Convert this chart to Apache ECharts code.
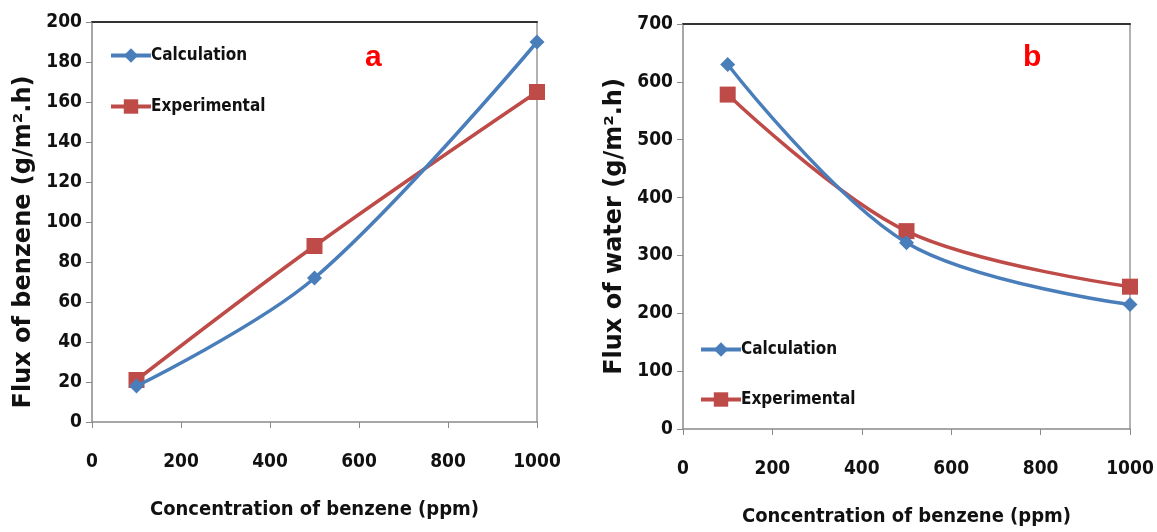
<!DOCTYPE html>
<html>
<head>
<meta charset="utf-8">
<title>Flux vs concentration</title>
<script src="https://cdn.jsdelivr.net/npm/echarts@6/dist/echarts.min.js"></script>
<style>
  * { margin: 0; padding: 0 }
  html, body { width: 100%; height: 100%; background: #fff; }
  #main { width: 1157px; height: 532px; }
</style>
</head>
<body>
<div id="main"></div>
<script type="text/javascript">
// concentration of benzene (ppm)
var conc = [100, 500, 1000];
// panel a: flux of benzene
var benzeneCalc = [18, 72, 190];
var benzeneExp = [21, 88, 165];
// panel b: flux of water
var waterCalc = [630, 322, 215];
var waterExp = [578, 342, 246];

var blue = '#4a7ebb';
var red = '#be4b48';
var narrow = '"DejaVu Sans Condensed", "Liberation Sans Narrow", sans-serif';

function pairs(xs, ys) {
  return xs.map(function (x, i) { return [x, ys[i]]; });
}

function bottomAxis(gi) {
  return {
    type: 'value', gridIndex: gi, min: 0, max: 1000, interval: 200,
    name: 'Concentration of benzene (ppm)', nameLocation: 'middle', nameGap: 78,
    nameTextStyle: { fontFamily: narrow, fontWeight: 'bold', fontSize: 20, color: '#111' },
    axisLine: { onZero: false, lineStyle: { color: '#8a8a8a', width: 1.5 } },
    axisTick: { show: true, length: 6, lineStyle: { color: '#8a8a8a' } },
    axisLabel: { margin: 31, fontFamily: narrow, fontWeight: 'bold', fontSize: 19, color: '#111',
      formatter: function (v) { return String(v); } },
    splitLine: { show: false }
  };
}
function topAxis(gi) {
  return {
    type: 'value', gridIndex: gi, position: 'top', min: 0, max: 1000,
    axisLine: { onZero: false, lineStyle: { color: '#333', width: 2 } },
    axisTick: { show: false }, axisLabel: { show: false }, splitLine: { show: false }
  };
}
function leftAxis(gi, max, step, title, shift) {
  return {
    type: 'value', gridIndex: gi, min: 0, max: max, interval: step,
    name: title, nameLocation: 'middle', nameGap: 56,
    nameTextStyle: { fontFamily: '"DejaVu Sans", sans-serif', fontWeight: 'bold', fontSize: 24, color: '#111',
      padding: [0, shift, 0, 0] },
    axisLine: { show: true, onZero: false, lineStyle: { color: '#8a8a8a', width: 1.5 } },
    axisTick: { show: true, length: 6, lineStyle: { color: '#8a8a8a' } },
    axisLabel: { margin: 10, fontFamily: narrow, fontWeight: 'bold', fontSize: 19, color: '#111' },
    splitLine: { show: false }
  };
}
function rightAxis(gi, max) {
  return {
    type: 'value', gridIndex: gi, position: 'right', min: 0, max: max,
    axisLine: { show: true, onZero: false, lineStyle: { color: '#999', width: 1.5 } },
    axisTick: { show: false }, axisLabel: { show: false }, splitLine: { show: false }
  };
}
function line(name, xi, yi, data, color, symbol, size) {
  return {
    name: name, type: 'line', xAxisIndex: xi, yAxisIndex: yi,
    data: data, smooth: 0.35, symbol: symbol, symbolSize: size,
    lineStyle: { color: color, width: 3.5 },
    itemStyle: { color: color },
    z: name === 'Experimental' ? 2 : 3
  };
}

var legendText = { fontFamily: narrow, fontWeight: 'bold', fontSize: 17, color: '#111', padding: [0, 0, 0, -5] };

var chart = echarts.init(document.getElementById('main'));
chart.setOption({
  animation: false,
  grid: [
    { left: 92, top: 22, width: 445, height: 400 },
    { left: 683, top: 24, width: 447, height: 408 }
  ],
  xAxis: [bottomAxis(0), bottomAxis(1), topAxis(0), topAxis(1)],
  yAxis: [
    leftAxis(0, 200, 20, 'Flux of benzene (g/m\u00b2.h)', 40),
    leftAxis(1, 700, 100, 'Flux of water (g/m\u00b2.h)', 0),
    rightAxis(0, 200),
    rightAxis(1, 700)
  ],
  title: [
    { text: 'a', left: 360, top: 38, textStyle: { color: '#ff0000', fontSize: 30, fontWeight: 'bold', fontFamily: '"Liberation Sans", sans-serif' } },
    { text: 'b', left: 1018, top: 38, textStyle: { color: '#ff0000', fontSize: 30, fontWeight: 'bold', fontFamily: '"Liberation Sans", sans-serif' } }
  ],
  legend: [
    {
      orient: 'vertical', left: 104, top: 42, itemWidth: 40, itemHeight: 18, itemGap: 34,
      lineStyle: { width: 4 },
      data: ['Calculation', 'Experimental'], textStyle: legendText
    },
    {
      orient: 'vertical', left: 694, top: 336, itemWidth: 40, itemHeight: 18, itemGap: 33,
      lineStyle: { width: 4 },
      data: ['Calculation', 'Experimental'], textStyle: legendText
    }
  ],
  series: [
    line('Experimental', 0, 0, pairs(conc, benzeneExp), red, 'rect', 16),
    line('Calculation', 0, 0, pairs(conc, benzeneCalc), blue, 'diamond', 15),
    line('Experimental', 1, 1, pairs(conc, waterExp), red, 'rect', 16),
    line('Calculation', 1, 1, pairs(conc, waterCalc), blue, 'diamond', 15)
  ]
});
</script>
</body>
</html>
